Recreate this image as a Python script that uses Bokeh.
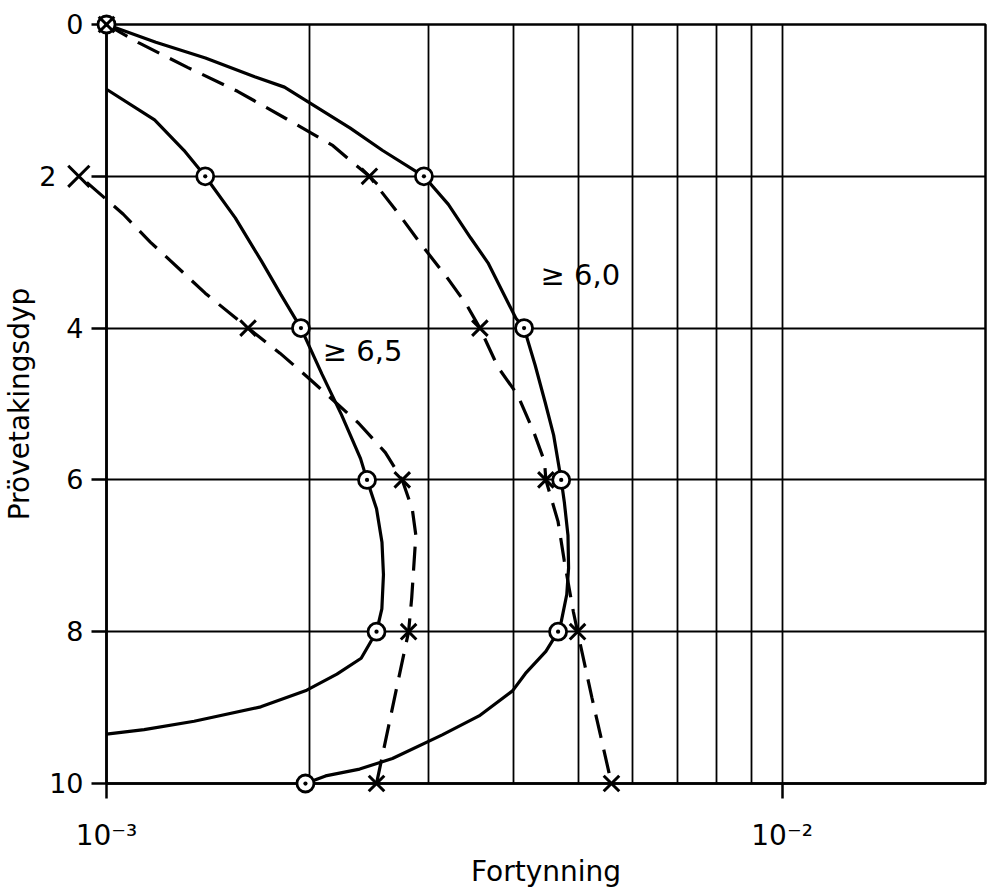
from bokeh.plotting import figure
from bokeh.models import Range1d, FixedTicker
from bokeh.embed import file_html
from bokeh.resources import INLINE
from bokeh.core.properties import value

# ---------------- data ----------------
# sampling depths with marked points
mark_depth = [0, 2, 4, 6, 8, 10]
outer_solid_mark = [1.00e-3, 2.95e-3, 4.15e-3, 4.71e-3, 4.66e-3, 1.97e-3]
outer_dash_mark = [1.00e-3, 2.45e-3, 3.57e-3, 4.47e-3, 4.98e-3, 5.59e-3]
inner_solid_depth = [2, 4, 6, 8]
inner_solid_mark = [1.40e-3, 1.94e-3, 2.43e-3, 2.51e-3]
inner_dash_depth = [4, 6, 8, 10]
inner_dash_mark = [1.62e-3, 2.74e-3, 2.80e-3, 2.51e-3]
# the first cross of the inner dashed series lies left of the 10^-3 axis
inner_dash_first_depth = [2]
inner_dash_first_mark = [0.91e-3]

# curves, points
outer_solid_depth = [0, 0.234, 0.441, 0.688, 0.825, 0.987, 1.365, 1.66, 2, 2.37, 2.81, 3.14,
                     3.695, 3.87, 4, 4.49, 4.98, 5.41, 6, 6.29, 6.73, 7.16, 7.51, 7.87, 8,
                     8.26, 8.55, 8.78, 9.11, 9.36, 9.67, 9.81, 9.90, 10]
outer_solid_x = [1.00e-3, 1.183e-3, 1.401e-3, 1.657e-3, 1.834e-3, 1.961e-3, 2.295e-3, 2.563e-3,
                 2.95e-3, 3.206e-3, 3.458e-3, 3.67e-3, 3.945e-3, 4.036e-3, 4.15e-3, 4.31e-3,
                 4.46e-3, 4.59e-3, 4.71e-3, 4.76e-3, 4.82e-3, 4.83e-3, 4.80e-3, 4.71e-3,
                 4.66e-3, 4.47e-3, 4.17e-3, 3.99e-3, 3.56e-3, 3.14e-3, 2.65e-3, 2.37e-3,
                 2.11e-3, 1.97e-3]

outer_dash_depth = [0, 0.243, 0.568, 0.88, 1.245, 1.597, 1.785, 2, 2.49, 2.89, 3.33, 3.69, 4,
                    4.52, 4.88, 5.37, 5.76, 6, 6.55, 7.07, 7.74, 8, 8.87, 10]
outer_dash_x = [1.00e-3, 1.117e-3, 1.32e-3, 1.563e-3, 1.848e-3, 2.164e-3, 2.29e-3, 2.45e-3,
                2.704e-3, 2.918e-3, 3.19e-3, 3.41e-3, 3.57e-3, 3.80e-3, 4.06e-3, 4.29e-3,
                4.45e-3, 4.47e-3, 4.66e-3, 4.76e-3, 4.91e-3, 4.98e-3, 5.23e-3, 5.59e-3]

inner_solid_depth_c = [0.853, 1.257, 1.657, 2, 2.547, 3.118, 3.555, 4, 4.61, 5.14, 5.72, 6,
                       6.38, 6.82, 7.25, 7.70, 8, 8.35, 8.56, 8.77, 8.99, 9.18, 9.29, 9.35]
inner_solid_x = [1.00e-3, 1.178e-3, 1.302e-3, 1.40e-3, 1.551e-3, 1.696e-3, 1.811e-3, 1.94e-3,
                 2.085e-3, 2.227e-3, 2.377e-3, 2.43e-3, 2.51e-3, 2.557e-3, 2.57e-3, 2.556e-3,
                 2.51e-3, 2.382e-3, 2.193e-3, 1.979e-3, 1.692e-3, 1.348e-3, 1.137e-3, 1.00e-3]

inner_dash_depth_c = [2.08, 2.5, 2.87, 3.30, 3.54, 4, 4.33, 4.68, 5.25, 5.64, 6, 6.39, 6.73,
                      7.55, 8, 8.66, 10]
inner_dash_x = [0.935e-3, 1.059e-3, 1.162e-3, 1.31e-3, 1.40e-3, 1.62e-3, 1.806e-3, 2.004e-3,
                2.36e-3, 2.587e-3, 2.74e-3, 2.836e-3, 2.87e-3, 2.83e-3, 2.80e-3, 2.70e-3,
                2.51e-3]

# curve labels
label_text = ["\u2265 6,0", "\u2265 6,5"]
label_x = [4.39e-3, 2.09e-3]
label_depth = [3.30, 4.30]

# axes
depth_ticks = [0, 2, 4, 6, 8, 10]
depth_grid = [2, 4, 6, 8]
x_ticks = [1e-3, 1e-2]
x_tick_labels = ["10\u207b\u00b3", "10\u207b\u00b2"]
x_grid = [2e-3, 3e-3, 4e-3, 5e-3, 6e-3, 7e-3, 8e-3, 9e-3, 1e-2]

FONT = "DejaVu Sans"

p = figure(width=994, height=890, x_axis_type="log",
           x_range=Range1d(1e-3, 2e-2), y_range=Range1d(10, 0),
           output_backend="svg", toolbar_location=None,
           min_border_left=106, min_border_right=9, min_border_top=24,
           min_border_bottom=107,
           x_axis_label="Fortynning", y_axis_label="Pr\u00f6vetakingsdyp")

p.background_fill_color = "white"
p.border_fill_color = "white"
p.outline_line_color = "black"
p.outline_line_width = 2.5

# grids
p.xgrid.ticker = FixedTicker(ticks=x_grid)
p.ygrid.ticker = FixedTicker(ticks=depth_grid)
for g in (p.xgrid, p.ygrid):
    g.grid_line_color = "black"
    g.grid_line_width = 1.8
    g.grid_line_alpha = 1.0

# axes
xa = p.xaxis[0]
xa.ticker = FixedTicker(ticks=x_ticks, minor_ticks=[])
xa.major_label_overrides = {x_ticks[0]: x_tick_labels[0], x_ticks[1]: x_tick_labels[1]}
ya = p.yaxis[0]
ya.ticker = FixedTicker(ticks=depth_ticks, minor_ticks=[])
ya.major_label_overrides = {2: "2\u2003\u200b"}
for ax in (xa, ya):
    ax.axis_line_color = "black"
    ax.axis_line_width = 2.5
    ax.major_tick_line_color = "black"
    ax.major_tick_line_width = 2.5
    ax.major_tick_out = 15
    ax.major_tick_in = 0
    ax.minor_tick_line_color = None
    ax.major_label_text_font = FONT
    ax.major_label_text_font_size = "27px"
    ax.major_label_text_color = "black"
    ax.axis_label_text_font = FONT
    ax.axis_label_text_font_style = "normal"
    ax.axis_label_text_font_size = "28px"
    ax.axis_label_text_color = "black"
xa.major_label_text_font_size = "28px"
xa.major_label_standoff = 20
xa.axis_label_standoff = 0
ya.major_label_standoff = 8
ya.axis_label_standoff = 0

# curves
LW = 3.2
DASH = "24 12"
p.line(outer_solid_x, outer_solid_depth, line_color="black", line_width=LW)
p.line(outer_dash_x, outer_dash_depth, line_color="black", line_width=LW, line_dash=DASH)
p.line(inner_solid_x, inner_solid_depth_c, line_color="black", line_width=LW)
p.line(inner_dash_x, inner_dash_depth_c, line_color="black", line_width=LW, line_dash=DASH,
       level="overlay")

# markers (drawn on the overlay level so that they are not cut by the frame)
p.scatter(outer_solid_mark, mark_depth, marker="circle_dot", size=17,
          fill_color="white", line_color="black", line_width=2.8, level="overlay")
p.scatter(inner_solid_mark, inner_solid_depth, marker="circle_dot", size=17,
          fill_color="white", line_color="black", line_width=2.8, level="overlay")
p.scatter(outer_dash_mark, mark_depth, marker="x", size=22,
          line_color="black", line_width=3, level="overlay")
p.scatter(inner_dash_mark, inner_dash_depth, marker="x", size=22,
          line_color="black", line_width=3, level="overlay")
p.scatter(inner_dash_first_mark, inner_dash_first_depth, marker="x", size=30,
          line_color="black", line_width=3, level="overlay")

# curve labels
p.text(label_x, label_depth, text=label_text, text_font=value(FONT),
       text_font_size="29px", text_align="left", text_baseline="middle",
       text_color="black")

open("out.html", "w").write(file_html(p, INLINE))
